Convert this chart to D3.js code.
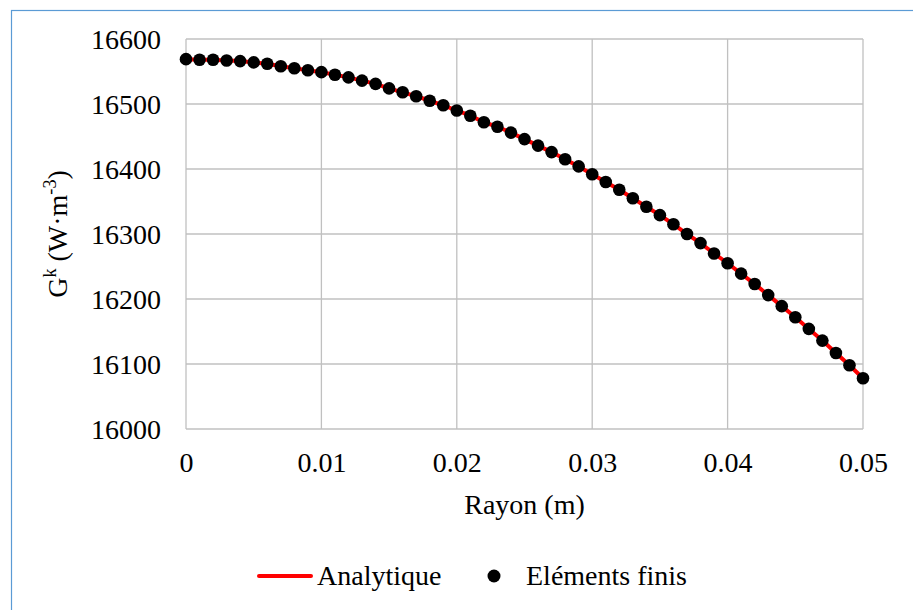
<!DOCTYPE html>
<html>
<head>
<meta charset="utf-8">
<script src="https://cdn.jsdelivr.net/npm/d3@7"></script>
<style>
  html, body { margin: 0; padding: 0; background: #fff; }
  svg text { font-family: "Times New Roman", "Liberation Serif", Tinos, "DejaVu Serif", serif !important; }
</style>
</head>
<body>
<svg id="chart" width="913" height="610"></svg>
<script>
// ---- data ----
const rayon = [0,0.001,0.002,0.003,0.004,0.005,0.006,0.007,0.008,0.009,
  0.010,0.011,0.012,0.013,0.014,0.015,0.016,0.017,0.018,0.019,
  0.020,0.021,0.022,0.023,0.024,0.025,0.026,0.027,0.028,0.029,
  0.030,0.031,0.032,0.033,0.034,0.035,0.036,0.037,0.038,0.039,
  0.040,0.041,0.042,0.043,0.044,0.045,0.046,0.047,0.048,0.049,0.050];
const elementsFinis = [16569,16568,16568,16567,16566,16564,16562,16558,16555,16552,
  16549,16545,16541,16536,16531,16524,16518,16512,16505,16498,
  16490,16482,16472,16465,16456,16446,16436,16426,16415,16404,
  16392,16380,16368,16355,16342,16329,16315,16300,16286,16270,
  16255,16239,16223,16206,16189,16172,16154,16136,16117,16098,16078];
const analytique = elementsFinis.slice();
const xTicks = [0, 0.01, 0.02, 0.03, 0.04, 0.05];
const xTickLabels = ["0", "0.01", "0.02", "0.03", "0.04", "0.05"];
const yTicks = [16000, 16100, 16200, 16300, 16400, 16500, 16600];
const seriesNames = ["Analytique", "Eléments finis"];

// ---- layout ----
const svg = d3.select("#chart");
const pL = 186, pR = 863, pT = 39, pB = 429;
const x = d3.scaleLinear().domain([0, 0.05]).range([pL, pR]);
const y = d3.scaleLinear().domain([16000, 16600]).range([pB, pT]);
const gridCol = "#c0c0c0";
const fs = 28;

// outer frame (blue)
svg.append("rect").attr("x", 11.5).attr("y", 10.5).attr("width", 1000).attr("height", 1000)
  .attr("fill", "none").attr("stroke", "#5b9bd5").attr("stroke-width", 1.2);

// grid
const grid = svg.append("g");
grid.selectAll("line.h").data(yTicks).join("line")
  .attr("x1", pL).attr("x2", pR)
  .attr("y1", d => y(d)).attr("y2", d => y(d))
  .attr("stroke", gridCol).attr("stroke-width", 1.3);
grid.selectAll("line.v").data(xTicks).join("line")
  .attr("y1", pT).attr("y2", pB)
  .attr("x1", d => x(d)).attr("x2", d => x(d))
  .attr("stroke", gridCol).attr("stroke-width", 1.3);

// axes (labels only)
const xAxis = d3.axisBottom(x).tickValues(xTicks).tickFormat((d, i) => xTickLabels[i]).tickSize(0).tickPadding(0);
const gx = svg.append("g").attr("transform", `translate(0,${pB})`).call(xAxis);
gx.select(".domain").remove();
gx.selectAll("text").attr("font-size", fs).attr("fill", "#000")
  .attr("dy", null).attr("y", 43);

const yAxis = d3.axisLeft(y).tickValues(yTicks).tickFormat(d3.format("d")).tickSize(0).tickPadding(0);
const gy = svg.append("g").attr("transform", `translate(161,0)`).call(yAxis);
gy.select(".domain").remove();
gy.selectAll("text").attr("font-size", fs).attr("fill", "#000")
  .attr("dy", "0.34em").attr("x", 0);

// axis titles
svg.append("text").attr("x", (pL + pR) / 2).attr("y", 514)
  .attr("text-anchor", "middle").attr("font-size", fs).text("Rayon (m)");

const yt = svg.append("text").attr("transform", `translate(67,${(pT + pB) / 2}) rotate(-90)`)
  .attr("text-anchor", "middle").attr("font-size", fs);
yt.append("tspan").text("G");
yt.append("tspan").attr("font-size", fs * 0.65).attr("dy", -11).text("k");
yt.append("tspan").attr("dy", 11).text(" (W·m");
yt.append("tspan").attr("font-size", fs * 0.65).attr("dy", -11).text("-3");
yt.append("tspan").attr("dy", 11).text(")");

// series
const pts = rayon.map((r, i) => ({ r, a: analytique[i], e: elementsFinis[i] }));
svg.append("path").datum(pts)
  .attr("d", d3.line().x(d => x(d.r)).y(d => y(d.a)))
  .attr("fill", "none").attr("stroke", "#ff0000").attr("stroke-width", 4);
svg.append("g").selectAll("circle").data(pts).join("circle")
  .attr("cx", d => x(d.r)).attr("cy", d => y(d.e)).attr("r", 6.3).attr("fill", "#000");

// legend
const leg = svg.append("g");
leg.append("line").attr("x1", 259).attr("x2", 311).attr("y1", 576).attr("y2", 576)
  .attr("stroke", "#ff0000").attr("stroke-width", 4).attr("stroke-linecap", "round");
leg.append("text").attr("x", 317).attr("y", 585).attr("font-size", fs).text(seriesNames[0]);
leg.append("circle").attr("cx", 494).attr("cy", 576).attr("r", 6.5).attr("fill", "#000");
leg.append("text").attr("x", 526).attr("y", 585).attr("font-size", fs).text(seriesNames[1]);
</script>
</body>
</html>
